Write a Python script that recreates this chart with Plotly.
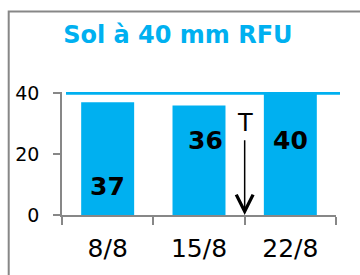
import plotly.graph_objects as go

categories = ["8/8", "15/8", "22/8"]
values = [37, 36, 40]
rfu_level = 40
label_y = [9.2, 24.6, 24.6]
label_x_offset = [0.0, 0.066, 0.0]
y_ticks = [0, 20, 40]
event_label = "T"
event_pos = 1.5  # between 15/8 and 22/8 (category index scale)
event_label_y = 30.3

BLUE = "#00B0F0"
GRAY = "#878787"
FONT = "DejaVu Sans"

fig = go.Figure()
fig.add_trace(go.Bar(
    x=categories, y=values, width=0.58,
    marker=dict(color=BLUE, line=dict(width=0)),
    hoverinfo="skip", showlegend=False,
))

annotations = []
for i, (v, ly, dx) in enumerate(zip(values, label_y, label_x_offset)):
    annotations.append(dict(
        x=i + dx, y=ly, xref="x", yref="y", text=str(v), showarrow=False,
        font=dict(family=FONT, size=25, color="black", weight="bold"),
        xanchor="center", yanchor="middle",
    ))
annotations.append(dict(
    x=event_pos, y=0, xref="x", yref="y",
    ax=event_pos, ay=event_label_y, axref="x", ayref="y",
    text=event_label, showarrow=True,
    arrowhead=5, arrowsize=2.2, arrowwidth=1.5, arrowcolor="black",
    startstandoff=2,
    font=dict(family=FONT, size=24, color="black"),
))

shapes = [
    dict(type="line", xref="paper", yref="y", x0=0.0146, x1=1.0146,
         y0=rfu_level, y1=rfu_level, line=dict(color=BLUE, width=3), layer="above"),
    dict(type="rect", xref="paper", yref="paper", x0=-0.1945, x1=1.3,
         y0=-0.8, y1=1.6545, line=dict(color=GRAY, width=2), layer="above"),
]

fig.update_layout(
    width=360, height=275,
    margin=dict(l=62, r=24, t=92, b=60, autoexpand=False),
    paper_bgcolor="white", plot_bgcolor="white",
    title=dict(text="Sol à 40 mm RFU", xref="container", x=0.494,
               yref="container", y=1 - 35 / 275, xanchor="center", yanchor="middle",
               automargin=False,
               font=dict(family=FONT, size=24, color=BLUE, weight="bold")),
    xaxis=dict(
        type="category", categoryorder="array", categoryarray=categories,
        range=[-0.5, len(categories) - 0.5], automargin=False,
        tickson="boundaries",
        showline=True, linecolor=GRAY, linewidth=1.5,
        ticks="outside", ticklen=8, tickcolor=GRAY, tickwidth=1.5,
        showgrid=False, zeroline=False,
        tickfont=dict(family=FONT, size=25, color="black"),
        ticklabelstandoff=10,
    ),
    yaxis=dict(
        range=[0, 40.4], tickmode="array", tickvals=y_ticks, automargin=False,
        showline=True, linecolor=GRAY, linewidth=1.5,
        ticks="outside", ticklen=7, tickcolor=GRAY, tickwidth=1.5,
        showgrid=False, zeroline=False,
        tickfont=dict(family=FONT, size=19, color="black"),
        ticklabelstandoff=10,
    ),
    annotations=annotations, shapes=shapes,
    bargap=0.42,
)

fig.write_html("out.html", config={"displayModeBar": False},
               post_script="document.body.style.margin='0';")
